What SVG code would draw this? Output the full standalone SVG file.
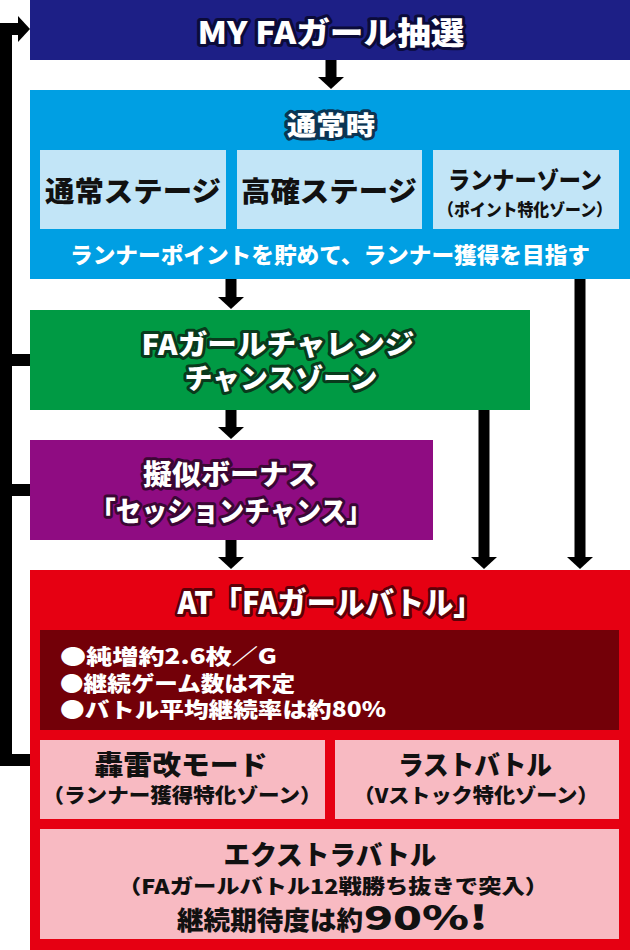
<svg xmlns="http://www.w3.org/2000/svg" width="630" height="950" viewBox="0 0 630 950">
<style>
text{font-family:"Noto Sans CJK JP","Noto Sans",sans-serif;font-weight:900;dominant-baseline:central}
.c{text-anchor:middle}
.w{fill:#fff;stroke-width:6;stroke-linejoin:round;paint-order:stroke}
.k{fill:#111}
.ln{fill:none;stroke:#000;stroke-width:12;stroke-linejoin:miter}
.sh{fill:none;stroke:#000;stroke-width:11}
.hd{fill:#000}
</style>
<defs>
<polygon id="ah" points="-13,0 13,0 0,12" class="hd"/>
</defs>
<rect width="630" height="950" fill="#fff"/>
<g id="connectors">
<path class="ln" d="M19,29 H6 V760 H30"/>
<polygon class="hd" points="18,16 30,29 18,42"/>
<path class="ln" d="M0,360 H30 M0,490 H30"/>
<path class="sh" d="M331,60 V78 M231,279 V298 M231,410 V428 M231,540 V558 M484,410 V558 M580,279 V558"/>
<use href="#ah" x="331" y="77"/>
<use href="#ah" x="231" y="297"/>
<use href="#ah" x="231" y="427"/>
<use href="#ah" x="231" y="557"/>
<use href="#ah" x="484" y="557"/>
<use href="#ah" x="580" y="557"/>
</g>
<g id="n-lottery">
<rect x="30" y="0" width="600" height="60" fill="#1d1f86"/>
<text class="c w" x="331" y="30" font-size="31" stroke="#0b0b3a" textLength="267" lengthAdjust="spacingAndGlyphs">MY FAガール抽選</text>
</g>
<g id="n-normal">
<rect x="30" y="90" width="600" height="189" fill="#009fe3"/>
<text class="c w" x="331" y="123" font-size="26" stroke="#0b3554" textLength="88" lengthAdjust="spacingAndGlyphs">通常時</text>
<rect x="40" y="150" width="186" height="79" fill="#c2e5f7"/>
<rect x="237" y="150" width="185" height="79" fill="#c2e5f7"/>
<rect x="433" y="150" width="186" height="79" fill="#c2e5f7"/>
<text class="c k" x="133" y="190" font-size="28" textLength="176" lengthAdjust="spacingAndGlyphs">通常ステージ</text>
<text class="c k" x="329" y="190" font-size="28" textLength="176" lengthAdjust="spacingAndGlyphs">高確ステージ</text>
<text class="c k" x="525" y="178" font-size="24" textLength="154" lengthAdjust="spacingAndGlyphs">ランナーゾーン</text>
<text class="c k" x="525" y="208" font-size="17" textLength="174" lengthAdjust="spacingAndGlyphs">（ポイント特化ゾーン）</text>
<text class="c" x="330" y="253" font-size="22" fill="#fff" textLength="520" lengthAdjust="spacingAndGlyphs">ランナーポイントを貯めて、ランナー獲得を目指す</text>
</g>
<g id="n-challenge">
<rect x="30" y="310" width="500" height="100" fill="#009a44"/>
<text class="c w" x="278" y="343" font-size="28" stroke="#093a1c" textLength="273" lengthAdjust="spacingAndGlyphs">FAガールチャレンジ</text>
<text class="c w" x="281" y="377" font-size="28" stroke="#093a1c" textLength="193" lengthAdjust="spacingAndGlyphs">チャンスゾーン</text>
</g>
<g id="n-bonus">
<rect x="30" y="440" width="403" height="100" fill="#8f0c82"/>
<text class="c w" x="230" y="473" font-size="28" stroke="#3a0734" textLength="174" lengthAdjust="spacingAndGlyphs">擬似ボーナス</text>
<text class="c w" x="231" y="510" font-size="28" stroke="#3a0734" textLength="282" lengthAdjust="spacingAndGlyphs">「セッションチャンス」</text>
</g>
<g id="n-at">
<rect x="30" y="570" width="600" height="380" fill="#e60012"/>
<text class="c w" x="330" y="600" font-size="31" stroke="#5c0008" textLength="305" lengthAdjust="spacingAndGlyphs">AT「FAガールバトル」</text>
<rect x="40" y="630" width="579" height="100" fill="#730008"/>
<text x="60" y="655" font-size="21" fill="#fff" textLength="217" lengthAdjust="spacingAndGlyphs">●純増約2.6枚／G</text>
<text x="60" y="682" font-size="21" fill="#fff" textLength="235" lengthAdjust="spacingAndGlyphs">●継続ゲーム数は不定</text>
<text x="60" y="708" font-size="21" fill="#fff" textLength="326" lengthAdjust="spacingAndGlyphs">●バトル平均継続率は約80%</text>
</g>
<g id="n-goraikai">
<rect x="40" y="740" width="285" height="79" fill="#f8bac2"/>
<text class="c k" x="181" y="763" font-size="27" textLength="173" lengthAdjust="spacingAndGlyphs">轟雷改モード</text>
<text class="c k" x="182" y="794" font-size="20" textLength="279" lengthAdjust="spacingAndGlyphs">（ランナー獲得特化ゾーン）</text>
</g>
<g id="n-lastbattle">
<rect x="335" y="740" width="284" height="79" fill="#f8bac2"/>
<text class="c k" x="475" y="763" font-size="27" textLength="154" lengthAdjust="spacingAndGlyphs">ラストバトル</text>
<text class="c k" x="476" y="794" font-size="20" textLength="245" lengthAdjust="spacingAndGlyphs">（Vストック特化ゾーン）</text>
</g>
<g id="n-extra">
<rect x="40" y="829" width="579" height="110" fill="#f8bac2"/>
<text class="c k" x="330" y="853" font-size="27" textLength="213" lengthAdjust="spacingAndGlyphs">エクストラバトル</text>
<text class="c k" x="333" y="885" font-size="20" textLength="430" lengthAdjust="spacingAndGlyphs">（FAガールバトル12戦勝ち抜きで突入）</text>
<text class="k" x="177" y="918" font-size="26" textLength="186" lengthAdjust="spacingAndGlyphs">継続期待度は約</text>
<text class="k" x="364" y="916" font-size="33" textLength="124" lengthAdjust="spacingAndGlyphs">90%!</text>
</g>
</svg>
